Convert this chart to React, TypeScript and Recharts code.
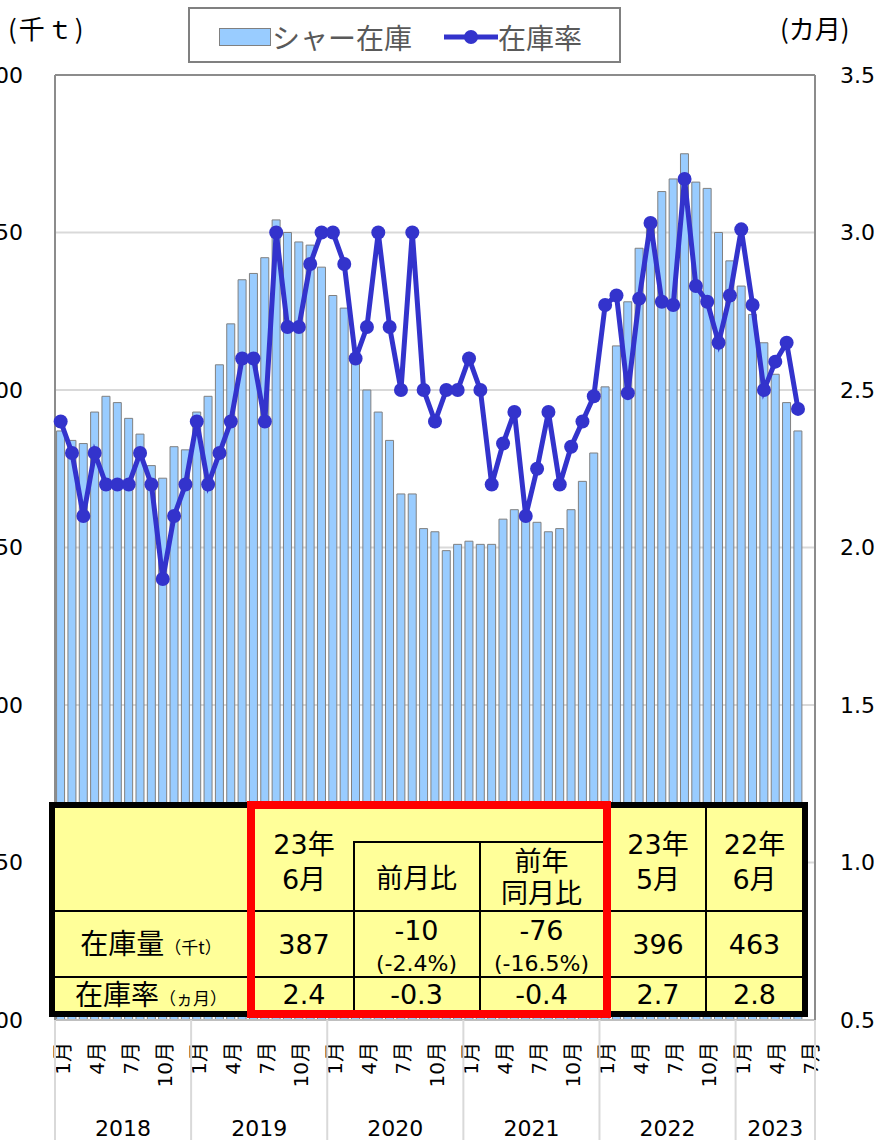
import React from 'react';
import { ComposedChart, Bar, Line, XAxis, YAxis, CartesianGrid, ReferenceLine } from 'recharts';

// 年と月（2023年は7月まで軸を取る）
const years = [2018, 2019, 2020, 2021, 2022, 2023];
const monthsInYear = [12, 12, 12, 12, 12, 7];
const categories = years.flatMap((y, i) =>
  Array.from({ length: monthsInYear[i] }, (_, m) => `${y}/${m + 1}`)
);

// シャー在庫（千t）
const stock2018 = [387, 384, 383, 393, 398, 396, 391, 386, 376, 372, 382, 381];
const stock2019 = [393, 398, 408, 421, 435, 437, 442, 454, 450, 447, 446, 439];
const stock2020 = [430, 426, 410, 400, 393, 384, 367, 367, 356, 355, 349, 351];
const stock2021 = [352, 351, 351, 359, 362, 361, 358, 355, 356, 362, 371, 380];
const stock2022 = [401, 414, 428, 445, 454, 463, 467, 475, 466, 464, 450, 441];
const stock2023 = [433, 424, 415, 405, 396, 387, null];

// 在庫率（カ月）
const ratio2018 = [2.4, 2.3, 2.1, 2.3, 2.2, 2.2, 2.2, 2.3, 2.2, 1.9, 2.1, 2.2];
const ratio2019 = [2.4, 2.2, 2.3, 2.4, 2.6, 2.6, 2.4, 3.0, 2.7, 2.7, 2.9, 3.0];
const ratio2020 = [3.0, 2.9, 2.6, 2.7, 3.0, 2.7, 2.5, 3.0, 2.5, 2.4, 2.5, 2.5];
const ratio2021 = [2.6, 2.5, 2.2, 2.33, 2.43, 2.1, 2.25, 2.43, 2.2, 2.32, 2.4, 2.48];
const ratio2022 = [2.77, 2.8, 2.49, 2.79, 3.03, 2.78, 2.77, 3.17, 2.83, 2.78, 2.65, 2.8];
const ratio2023 = [3.01, 2.77, 2.5, 2.59, 2.65, 2.44, null];

const leftTicks = [200, 250, 300, 350, 400, 450, 500];
const rightTicks = [0.5, 1.0, 1.5, 2.0, 2.5, 3.0, 3.5];

const stock = [...stock2018, ...stock2019, ...stock2020, ...stock2021, ...stock2022, ...stock2023];
const ratio = [...ratio2018, ...ratio2019, ...ratio2020, ...ratio2021, ...ratio2022, ...ratio2023];
const data = categories.map((cat, i) => ({ cat, stock: stock[i], ratio: ratio[i] }));

const W = 881;
const H = 1140;
const PLOT_W = 760;
const FONT = '"DejaVu Sans", "Noto Sans CJK JP", sans-serif';
const JP = '"Noto Sans CJK JP", sans-serif';
const BAR = '#99CCFF';
const LINE = '#3333CC';

function MonthTick(props: any) {
  const { x, y } = props;
  const idx = props.index ?? props.payload?.index ?? 0;
  const [yy, mm] = categories[idx].split('/').map(Number);
  const bw = PLOT_W / categories.length;
  const out: React.ReactNode[] = [];
  if ([1, 4, 7, 10].includes(mm)) {
    const tx = x + 2;
    const ty = y + 22;
    out.push(
      <text key="m" x={tx} y={ty} transform={`rotate(-90, ${tx}, ${ty})`} textAnchor="end"
        dominantBaseline="central" fontSize={20} fill="#000" fontFamily={FONT}>
        {mm}月
      </text>
    );
  }
  if (mm === 1) {
    out.push(<line key="s" x1={x - bw / 2} x2={x - bw / 2} y1={y} y2={y + 120} stroke="#d9d9d9" strokeWidth={2} />);
    const first = idx;
    const last = categories.findLastIndex((c) => c.startsWith(`${yy}/`));
    out.push(
      <text key="y" x={x + ((last - first) / 2) * bw} y={y + 108} textAnchor="middle"
        dominantBaseline="central" fontSize={22} fill="#000" fontFamily={FONT}>
        {yy}
      </text>
    );
  }
  if (idx === categories.length - 1) {
    out.push(<line key="e" x1={x + bw / 2} x2={x + bw / 2} y1={y} y2={y + 120} stroke="#d9d9d9" strokeWidth={2} />);
  }
  return <g>{out}</g>;
}

const abs = (left: number, top: number, width: number, height: number): React.CSSProperties => ({
  position: 'absolute', left, top, width, height, boxSizing: 'border-box',
});

function T({ l, t, w, h, size = 27, lh, children }: any) {
  return (
    <div style={{ ...abs(l, t, w, h), display: 'flex', flexDirection: 'column', alignItems: 'center',
      justifyContent: 'center', fontSize: size, lineHeight: `${lh ?? size + 6}px`, fontFamily: FONT,
      color: '#000', textAlign: 'center', whiteSpace: 'nowrap', overflow: 'hidden' }}>
      {children}
    </div>
  );
}

function SummaryTable() {
  const ln = (l: number, t: number, w: number, h: number) => (
    <div style={{ ...abs(l, t, w, h), background: '#000' }} />
  );
  return (
    <>
      <div style={{ ...abs(49, 802, 759, 215), background: '#FFFF99', border: '6px solid #000' }} />
      {ln(55, 910, 748, 1.5)}
      {ln(55, 976, 748, 1.5)}
      {ln(353, 841, 255, 1.5)}
      {ln(353, 841, 1.5, 170)}
      {ln(479, 841, 1.5, 170)}
      {ln(705, 808, 1.5, 203)}
      <div style={{ ...abs(247, 801, 364, 217), border: '8px solid #FF0000' }} />

      <T l={255} t={826} w={98} h={72} lh={35}><span>23年</span><span>6月</span></T>
      <T l={354} t={845} w={125} h={66}>前月比</T>
      <T l={480} t={845} w={123} h={66} lh={32}><span>前年</span><span>同月比</span></T>
      <T l={611} t={826} w={94} h={72} lh={35}><span>23年</span><span>5月</span></T>
      <T l={706} t={826} w={97} h={72} lh={35}><span>22年</span><span>6月</span></T>

      <T l={55} t={911} w={192} h={66}>
        <span style={{ fontFamily: JP, fontSize: 28 }}>在庫量<span style={{ fontSize: 17 }}>（千t）</span></span>
      </T>
      <T l={255} t={911} w={98} h={66}>387</T>
      <T l={354} t={914} w={125} h={66} lh={33}><span>-10</span><span style={{ fontSize: 22 }}>(-2.4%)</span></T>
      <T l={480} t={914} w={123} h={66} lh={33}><span>-76</span><span style={{ fontSize: 22 }}>(-16.5%)</span></T>
      <T l={611} t={911} w={94} h={66}>396</T>
      <T l={706} t={911} w={97} h={66}>463</T>

      <T l={55} t={978} w={192} h={34} lh={34}>
        <span style={{ fontFamily: JP, fontSize: 28 }}>在庫率<span style={{ fontSize: 17 }}>（ヵ月）</span></span>
      </T>
      <T l={255} t={978} w={98} h={34} lh={34}>2.4</T>
      <T l={354} t={978} w={125} h={34} lh={34}>-0.3</T>
      <T l={480} t={978} w={123} h={34} lh={34}>-0.4</T>
      <T l={611} t={978} w={94} h={34} lh={34}>2.7</T>
      <T l={706} t={978} w={97} h={34} lh={34}>2.8</T>
    </>
  );
}

function LegendBox() {
  return (
    <>
      <div style={{ ...abs(188, 7, 433, 56), border: '2px solid #808080', background: '#fff' }} />
      <div style={{ ...abs(219, 28, 52, 18), background: BAR, border: '1px solid #808080' }} />
      <div style={{ ...abs(272, 14, 150, 46), fontFamily: JP, fontSize: 28, lineHeight: '46px', color: '#595959' }}>シャー在庫</div>
      <svg style={{ ...abs(444, 28, 54, 18) }} width={54} height={18}>
        <line x1={0} x2={54} y1={9} y2={9} stroke={LINE} strokeWidth={5} />
        <circle cx={27} cy={9} r={7} fill={LINE} />
      </svg>
      <div style={{ ...abs(498, 14, 120, 46), fontFamily: JP, fontSize: 28, lineHeight: '46px', color: '#595959' }}>在庫率</div>
      <div style={{ ...abs(8, 8, 100, 40), fontFamily: JP, fontSize: 26, lineHeight: '40px', color: '#000', letterSpacing: 2 }}>(千ｔ)</div>
      <div style={{ ...abs(780, 8, 100, 40), fontFamily: JP, fontSize: 26, lineHeight: '40px', color: '#000' }}>(カ月)</div>
    </>
  );
}

export default function App() {
  return (
    <div style={{ position: 'absolute', left: 0, top: 0, width: W, height: H, background: '#fff', overflow: 'hidden' }}>
      <ComposedChart width={W} height={H} data={data} margin={{ top: 75, right: 0, bottom: 0, left: 0 }}
        barCategoryGap="14%">
        <CartesianGrid yAxisId="left" vertical={false} stroke="#d9d9d9" strokeWidth={2} />
        <XAxis dataKey="cat" interval={0} height={120} tickSize={0} tickMargin={0} tickLine={false}
          axisLine={{ stroke: '#bfbfbf', strokeWidth: 2 }} tick={<MonthTick />} />
        <YAxis yAxisId="left" orientation="left" width={55} domain={[200, 500]} ticks={leftTicks}
          tickSize={0} tickMargin={32} tickLine={false} axisLine={{ stroke: '#8c8c8c', strokeWidth: 2 }}
          tick={{ fontSize: 22, fill: '#000', fontFamily: FONT }} />
        <YAxis yAxisId="right" orientation="right" width={66} domain={[0.5, 3.5]} ticks={rightTicks}
          tickSize={0} tickMargin={25} tickLine={false} axisLine={{ stroke: '#8c8c8c', strokeWidth: 2 }}
          tickFormatter={(v: number) => v.toFixed(1)}
          tick={{ fontSize: 22, fill: '#000', fontFamily: FONT, textAnchor: 'start' }} />
        <ReferenceLine yAxisId="left" y={500} stroke="#8c8c8c" strokeWidth={2} />
        <Bar yAxisId="left" dataKey="stock" fill={BAR} stroke="#808080" strokeWidth={1} isAnimationActive={false} />
        <Line yAxisId="right" dataKey="ratio" stroke={LINE} strokeWidth={5}
          dot={{ r: 7, fill: LINE, stroke: LINE, strokeWidth: 0 }} activeDot={false} isAnimationActive={false} />
      </ComposedChart>
      <SummaryTable />
      <LegendBox />
    </div>
  );
}
